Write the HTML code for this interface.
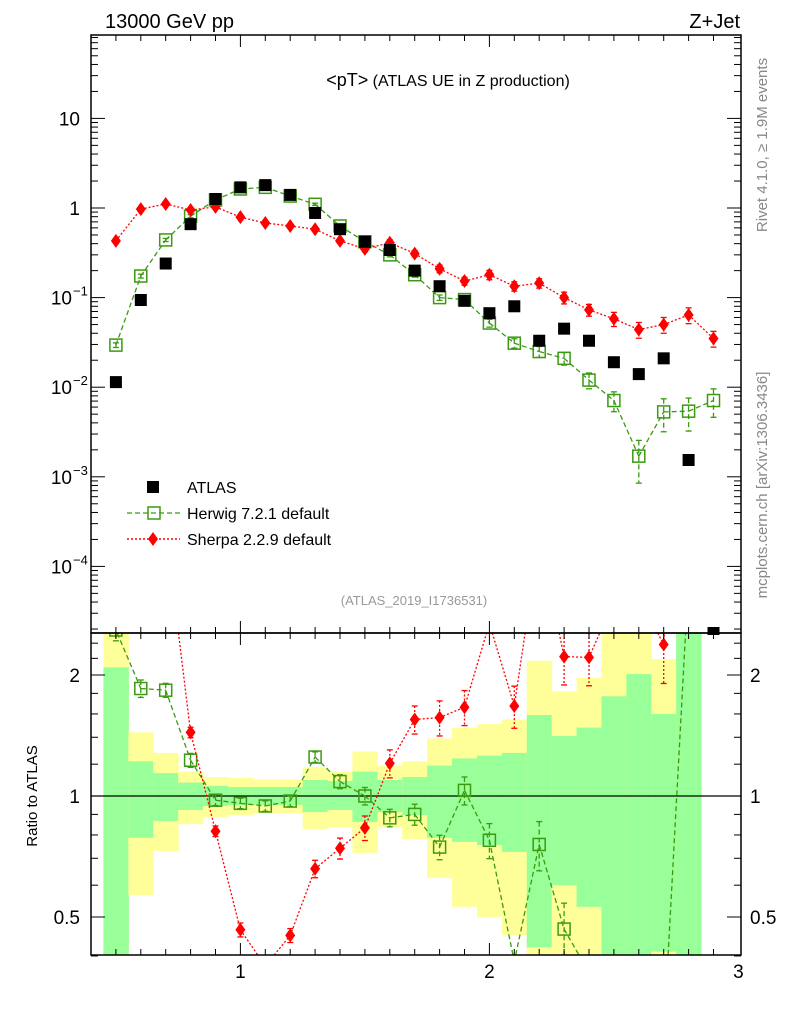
<!DOCTYPE html>
<html><head><meta charset="utf-8"><style>
html,body{margin:0;padding:0;background:#fff;overflow:hidden;width:786px;height:1024px;}
svg{display:block;}
text{font-family:"Liberation Sans",sans-serif;}
</style></head><body>
<svg id="c" width="786" height="1024" xmlns="http://www.w3.org/2000/svg">
<defs>
<clipPath id="cm"><rect x="91" y="35" width="650" height="598"/></clipPath>
<clipPath id="cr"><rect x="91" y="633" width="650" height="322"/></clipPath>
</defs>
<g id="bands" clip-path="url(#cr)"></g>
<g id="main" clip-path="url(#cm)"></g>
<g id="ratio" clip-path="url(#cr)"></g>
<g id="axes"></g>
<text x="105" y="28" font-size="20">13000 GeV pp</text>
<text x="740" y="28" font-size="20" text-anchor="end">Z+Jet</text>
<text x="448" y="86" text-anchor="middle"><tspan font-size="18">&lt;pT&gt;</tspan><tspan font-size="16"> (ATLAS UE in Z production)</tspan></text>
<text x="414" y="605" font-size="13" fill="#999" text-anchor="middle">(ATLAS_2019_I1736531)</text>
<text transform="translate(767,145) rotate(-90)" font-size="15" fill="#888" text-anchor="middle">Rivet 4.1.0, ≥ 1.9M events</text>
<text transform="translate(767,485) rotate(-90)" font-size="15" fill="#888" text-anchor="middle">mcplots.cern.ch [arXiv:1306.3436]</text>
<text transform="translate(37,796) rotate(-90)" font-size="15" text-anchor="middle">Ratio to ATLAS</text>
<g>
<rect x="147" y="481" width="12" height="12" fill="#000"/>
<text x="187" y="493" font-size="16">ATLAS</text>
<line x1="127" y1="513" x2="180" y2="513" stroke="#3a9a10" stroke-dasharray="5,3" stroke-width="1.3"/>
<rect x="148" y="507" width="12" height="12" fill="none" stroke="#3a9a10" stroke-width="1.5"/>
<text x="187" y="519" font-size="16">Herwig 7.2.1 default</text>
<line x1="127" y1="539" x2="180" y2="539" stroke="#f00" stroke-dasharray="2,2" stroke-width="1.5"/>
<path d="M153,532 L158,539 L153,546 L148,539Z" fill="#f00"/>
<text x="187" y="545" font-size="16">Sherpa 2.2.9 default</text>
</g>
</svg>
<script>
const xs=[0.5,0.6,0.7,0.8,0.9,1.0,1.1,1.2,1.3,1.4,1.5,1.6,1.7,1.8,1.9,2.0,2.1,2.2,2.3,2.4,2.5,2.6,2.7,2.8,2.9];
const atlas=[0.0114,0.094,0.24,0.66,1.26,1.7,1.8,1.4,0.88,0.58,0.42,0.34,0.2,0.134,0.092,0.067,0.080,0.033,0.045,0.033,0.019,0.014,0.021,0.00154,0.000018];
const herwig=[0.0295,0.174,0.44,0.81,1.23,1.63,1.7,1.36,1.1,0.63,0.42,0.30,0.18,0.10,0.095,0.052,0.031,0.025,0.021,0.012,0.0071,0.0017,0.0053,0.0054,0.0071];
const herwigErr=[0.06,0.05,0.04,0.04,0.03,0.03,0.03,0.03,0.03,0.04,0.05,0.05,0.06,0.07,0.08,0.1,0.12,0.14,0.16,0.2,0.25,0.5,0.4,0.4,0.35];
const sherpa=[0.43,0.97,1.11,0.95,1.03,0.79,0.68,0.63,0.58,0.43,0.35,0.41,0.31,0.21,0.153,0.18,0.134,0.145,0.10,0.073,0.058,0.044,0.05,0.064,0.035];
const sherpaErr=[0.05,0.04,0.03,0.03,0.03,0.04,0.04,0.04,0.05,0.06,0.07,0.08,0.08,0.1,0.1,0.12,0.12,0.12,0.15,0.15,0.18,0.2,0.2,0.2,0.2];
const yelLo=[0.3,0.567,0.73,0.851,0.887,0.897,0.907,0.907,0.828,0.837,0.722,0.837,0.782,0.625,0.53,0.50,0.451,0.3,0.3,0.3,0.3,0.3,0.3,0.3,null];
const yelHi=[3,1.44,1.28,1.15,1.115,1.11,1.10,1.10,1.18,1.15,1.29,1.19,1.22,1.39,1.48,1.51,1.55,2.17,1.82,1.97,3,3,2.19,3,null];
const grnLo=[0.3,0.787,0.867,0.923,0.944,0.95,0.95,0.95,0.912,0.923,0.862,0.912,0.897,0.787,0.769,0.755,0.726,0.42,0.60,0.53,0.3,0.3,0.41,0.3,null];
const grnHi=[2.09,1.22,1.14,1.08,1.06,1.053,1.053,1.053,1.096,1.09,1.15,1.096,1.115,1.19,1.24,1.26,1.28,1.59,1.41,1.48,1.77,2.01,1.60,3,null];
const xTicks=[1,2,3];
const mainTicks=[[1,"10"],[0,"1"],[-1,"10"],[-2,"10"],[-3,"10"],[-4,"10"]];
const ratioTicks=[0.5,1,2];

const NS="http://www.w3.org/2000/svg";
const X=v=>91+(v-0.4)*249;
const Y=v=>208-Math.log10(v)*89.6;
const R=v=>796-Math.log10(v)*402;
function mk(t,a,p){const e=document.createElementNS(NS,t);for(const k in a)e.setAttribute(k,a[k]);(p||document.getElementById('c')).appendChild(e);return e;}
const gM=document.getElementById('main'),gR=document.getElementById('ratio'),gB=document.getElementById('bands'),gA=document.getElementById('axes');
const clampR=v=>Math.min(955,Math.max(633,R(v)));
xs.forEach((x,i)=>{if(yelLo[i]==null)return;
 const y=mk('rect',{x:X(x-0.05),width:249*0.1+0.5,y:clampR(yelHi[i]),height:clampR(yelLo[i])-clampR(yelHi[i]),fill:'#ffff99'},gB);
 
 
 const g=mk('rect',{x:X(x-0.05),width:249*0.1+0.5,y:clampR(grnHi[i]),height:clampR(grnLo[i])-clampR(grnHi[i]),fill:'#99ff99'},gB);
 
 
});
mk('line',{x1:91,x2:741,y1:R(1),y2:R(1),stroke:'#000','stroke-width':1.2},gR);
function clipSeg(x1,y1,x2,y2,lo,hi){
 let t0=0,t1=1;const dy=y2-y1;
 if(dy===0){if(y1<lo||y1>hi)return null;}
 else{let ta=(lo-y1)/dy,tb=(hi-y1)/dy;if(ta>tb)[ta,tb]=[tb,ta];t0=Math.max(t0,ta);t1=Math.min(t1,tb);if(t0>=t1)return null;}
 return [x1+(x2-x1)*t0,y1+dy*t0,x1+(x2-x1)*t1,y1+dy*t1];
}
function series(vals,errs,col,dash,kind,g,Yf,name,lo,hi){
 const pts=xs.map((x,i)=>[X(x),Yf(vals[i])]);
 for(let i=0;i<pts.length-1;i++){const s=clipSeg(pts[i][0],pts[i][1],pts[i+1][0],pts[i+1][1],lo,hi);if(!s)continue;
  const l=mk('line',{x1:s[0],y1:s[1],x2:s[2],y2:s[3],stroke:col,'stroke-width':1.3,'stroke-dasharray':dash},g);
  
  }
 xs.forEach((x,i)=>{const px=X(x),py=Yf(vals[i]);if(py<lo-6||py>hi+6)return;const e=errs[i];
  const y1=Math.max(lo,Yf(vals[i]*(1+e))),y2=Math.min(hi,Yf(vals[i]*(1-e)));
  mk('line',{x1:px,x2:px,y1:y1,y2:y2,stroke:col,'stroke-width':1.3,'stroke-dasharray':dash},g);
  mk('line',{x1:px-3,x2:px+3,y1:y1,y2:y1,stroke:col,'stroke-width':1.3},g);
  mk('line',{x1:px-3,x2:px+3,y1:y2,y2:y2,stroke:col,'stroke-width':1.3},g);
  let m;
  if(kind==='sq')m=mk('rect',{x:px-6,y:py-6,width:12,height:12,fill:'none',stroke:col,'stroke-width':1.5},g);
  else m=mk('path',{d:`M${px},${py-7}L${px+5},${py}L${px},${py+7}L${px-5},${py}Z`,fill:col},g);
  
  
 });
}
series(herwig,herwigErr,'#3a9a10','5,3','sq',gM,Y,'herwig',35,633);
series(sherpa,sherpaErr,'#f00','2,2','di',gM,Y,'sherpa',35,633);
xs.forEach((x,i)=>{const py=Y(atlas[i]);if(py>640)return;const r=mk('rect',{x:X(x)-6,y:py-6,width:12,height:12,fill:'#000'},gM);
 
 });
series(herwig.map((v,i)=>v/atlas[i]),herwigErr,'#3a9a10','5,3','sq',gR,R,'herwig-ratio',633,955);
series(sherpa.map((v,i)=>v/atlas[i]),sherpaErr,'#f00','2,2','di',gR,R,'sherpa-ratio',633,955);
mk('rect',{x:X(2.9)-6,y:627,width:12,height:8,fill:'#000'},gA);
mk('rect',{x:91,y:35,width:650,height:598,fill:'none',stroke:'#000','stroke-width':1.5},gA);
mk('rect',{x:91,y:633,width:650,height:322,fill:'none',stroke:'#000','stroke-width':1.5},gA);
for(let k=5;k<=29;k++){const v=k/10,px=X(v),big=k%10===0,L=big?12:6;
 [[35,1],[633,-1],[633,1],[955,-1]].forEach(([y0,d])=>mk('line',{x1:px,x2:px,y1:y0,y2:y0+d*L,stroke:'#000','stroke-width':1},gA));}
xTicks.forEach(v=>{const t=mk('text',{x:X(v),y:978,'font-size':19,'text-anchor':'middle'},gA);t.textContent=v;
 
 });
for(let d=-5;d<=1;d++)for(let m=1;m<10;m++){const v=m*Math.pow(10,d),py=Y(v);if(py<35||py>633)continue;const L=m===1?14:7;
 mk('line',{x1:91,x2:91+L,y1:py,y2:py,stroke:'#000'},gA);mk('line',{x1:741,x2:741-L,y1:py,y2:py,stroke:'#000'},gA);}
mainTicks.forEach(([e,s])=>{const py=Y(Math.pow(10,e));const t=mk('text',{x:e<0?72:80,y:py+7,'font-size':19,'text-anchor':'end'},gA);t.textContent=s;
 
 
 if(e<0){const s2=mk('text',{x:73,y:py-2,'font-size':13},gA);s2.textContent='−'+(-e);}});
[0.4,0.5,0.6,0.7,0.8,0.9,1,1.2,1.4,1.6,1.8,2,2.2,2.4].forEach(v=>{const py=R(v),L=(v===0.5||v===1||v===2)?14:7;
 mk('line',{x1:91,x2:91+L,y1:py,y2:py,stroke:'#000'},gA);mk('line',{x1:741,x2:741-L,y1:py,y2:py,stroke:'#000'},gA);});
ratioTicks.forEach(v=>{const py=R(v);
 const t=mk('text',{x:80,y:py+7,'font-size':19,'text-anchor':'end'},gA);t.textContent=v;
 
 
 const t2=mk('text',{x:750,y:py+7,'font-size':19},gA);t2.textContent=v;
 
 });
</script>
</body></html>
